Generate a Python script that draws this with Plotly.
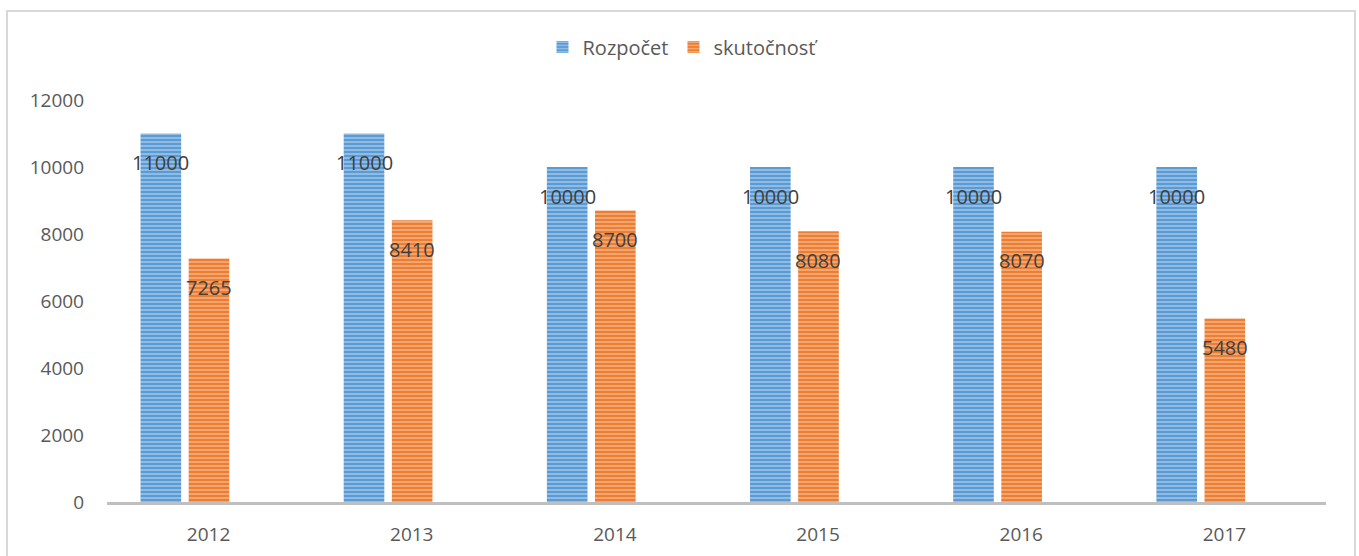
import plotly.graph_objects as go

years = ["2012", "2013", "2014", "2015", "2016", "2017"]
rozpocet = [11000, 11000, 10000, 10000, 10000, 10000]
skutocnost = [7265, 8410, 8700, 8080, 8070, 5480]
series_names = ["Rozpočet", "skutočnosť"]

FONT = "Open Sans"
L, R, T, B = 107, 33, 100, 54
W, H = 1359, 556
xpos = list(range(len(years)))

bar_w = 0.2
offsets = [-0.335, -0.098]
colors = ["#5B9BD5", "#ED7D31"]
fg = ["#DEEBF7", "#FBE5D6"]

fig = go.Figure()
for vals, name, off, c, f in zip([rozpocet, skutocnost], series_names, offsets, colors, fg):
    fig.add_trace(go.Bar(
        x=xpos, y=vals, name=name, offset=off, width=bar_w,
        marker=dict(color=c, line=dict(width=0),
                    pattern=dict(shape="-", fgcolor=f, bgcolor=c, size=4, solidity=0.4, fillmode="overlay")),
    ))
    for xv, yv in zip(xpos, vals):
        fig.add_annotation(x=xv + off + bar_w / 2, y=yv, text=str(yv), showarrow=False,
                           yshift=-29,
                           font=dict(family=FONT, size=20, color="#404040"))

fig.add_shape(type="rect", xref="paper", yref="paper",
              x0=(7 - L) / (W - L - R), x1=(1355 - L) / (W - L - R),
              y0=-(B + 5) / (H - T - B), y1=(H - B - 11) / (H - T - B),
              line=dict(color="#D9D9D9", width=2), layer="below")

fig.update_layout(
    width=W, height=H, barmode="overlay",
    margin=dict(l=L, r=R, t=T, b=B, autoexpand=False),
    paper_bgcolor="white", plot_bgcolor="white",
    font=dict(family=FONT, size=19, color="#595959"),
    legend=dict(orientation="h", x=(683 - L) / (W - L - R), xanchor="center",
                y=(H - B - 47) / (H - T - B), yanchor="middle",
                font=dict(size=20, color="#595959")),
    xaxis=dict(range=[-0.5, len(years) - 0.5], tickvals=xpos, ticktext=years,
               showline=True, linecolor="#BFBFBF", linewidth=3, showgrid=False, zeroline=False,
               ticks="", ticklabelstandoff=13, automargin=False),
    yaxis=dict(range=[0, 12000], dtick=2000, tickformat="d", showgrid=False, zeroline=False,
               showline=False, ticks="", ticklabelstandoff=22, automargin=False),
)

fig.write_html("out.html", config={"displayModeBar": False},
               post_script="document.body.style.margin='0';")
